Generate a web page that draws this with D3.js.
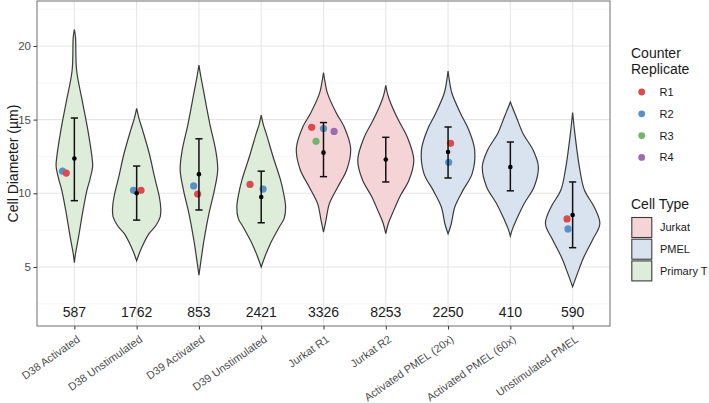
<!DOCTYPE html>
<head>
<meta charset="utf-8">
<title>Cell Diameter</title>
<script src="https://d3js.org/d3.v7.min.js"></script>
<style>
  body { margin: 0; background: #fff; }
  text { font-family: "Liberation Sans", Arial, sans-serif; }
</style>
</head>
<body>
<div id="violin"></div>
<script>

// ---- data ----
var categories = ["D38 Activated", "D38 Unstimulated", "D39 Activated", "D39 Unstimulated",
  "Jurkat R1", "Jurkat R2", "Activated PMEL (20x)", "Activated PMEL (60x)", "Unstimulated PMEL"];
var cellTypes = ["Primary T", "Primary T", "Primary T", "Primary T",
  "Jurkat", "Jurkat", "PMEL", "PMEL", "PMEL"];
var counts = [587, 1762, 853, 2421, 3326, 8253, 2250, 410, 590];
var means = [12.36, 10.0, 11.3, 9.75, 12.76, 12.29, 12.8, 11.79, 8.53];
var errLow = [9.5, 8.18, 8.87, 8.0, 11.13, 10.77, 11.04, 10.17, 6.31];
var errHigh = [15.11, 11.85, 13.7, 11.5, 14.8, 13.8, 14.5, 13.48, 10.77];

// density outline per group: [diameter, relative half width]
var violins = [
  [[5.3,0],[5.9,0.04],[7.05,0.15],[8.86,0.31],[10.22,0.45],[10.9,0.55],[11.8,0.65],[12.26,0.64],[14.3,0.48],[16.1,0.3],[18.35,0.08],[20.6,0.04],[21.1,0]],
  [[5.42,0],[5.9,0.09],[6.36,0.19],[7.26,0.44],[7.8,0.68],[8.4,0.84],[9.0,0.86],[9.75,0.81],[11.1,0.64],[12.7,0.45],[14.3,0.21],[15.1,0.08],[15.76,0]],
  [[4.45,0],[5.4,0.07],[6.8,0.18],[8.65,0.36],[10.2,0.55],[11.6,0.67],[12.9,0.6],[14.7,0.39],[17.0,0.16],[17.9,0.07],[18.7,0]],
  [[5.0,0],[5.7,0.13],[6.6,0.33],[7.7,0.64],[8.3,0.82],[9.07,0.87],[10.0,0.8],[10.9,0.69],[12.5,0.42],[14.05,0.18],[14.7,0.07],[15.3,0]],
  [[7.37,0],[8.2,0.09],[9.3,0.21],[10.4,0.5],[11.6,0.83],[13.03,0.97],[14.5,0.74],[15.4,0.47],[16.8,0.14],[17.5,0.06],[18.2,0]],
  [[7.26,0],[8.0,0.1],[8.64,0.24],[9.77,0.5],[10.9,0.83],[12.26,1.0],[13.8,0.77],[14.97,0.45],[16.1,0.18],[16.7,0.07],[17.33,0]],
  [[7.26,0],[7.9,0.11],[9.07,0.24],[10.2,0.53],[11.34,0.86],[12.94,0.95],[14.3,0.74],[15.4,0.45],[16.77,0.14],[17.5,0.06],[18.3,0]],
  [[7.1,0],[7.6,0.08],[8.18,0.21],[9.32,0.5],[10.45,0.85],[11.8,1.0],[12.94,0.81],[14.06,0.45],[15.2,0.21],[15.8,0.08],[16.2,0]],
  [[3.66,0],[4.55,0.17],[5.67,0.4],[6.8,0.7],[7.94,0.97],[9.07,0.77],[10.22,0.42],[11.8,0.24],[14.05,0.08],[15.48,0]]
];

// replicate means (jitter = horizontal offset in category widths)
var replicates = [
  {cat: "D38 Activated", rep: "R2", value: 11.5, jitter: -0.19},
  {cat: "D38 Activated", rep: "R1", value: 11.37, jitter: -0.13},
  {cat: "D38 Unstimulated", rep: "R2", value: 10.2, jitter: -0.05},
  {cat: "D38 Unstimulated", rep: "R1", value: 10.2, jitter: 0.07},
  {cat: "D39 Activated", rep: "R2", value: 10.5, jitter: -0.085},
  {cat: "D39 Activated", rep: "R1", value: 9.95, jitter: -0.02},
  {cat: "D39 Unstimulated", rep: "R1", value: 10.6, jitter: -0.18},
  {cat: "D39 Unstimulated", rep: "R2", value: 10.29, jitter: 0.03},
  {cat: "Jurkat R1", rep: "R1", value: 14.48, jitter: -0.19},
  {cat: "Jurkat R1", rep: "R2", value: 14.39, jitter: 0.0},
  {cat: "Jurkat R1", rep: "R4", value: 14.2, jitter: 0.17},
  {cat: "Jurkat R1", rep: "R3", value: 13.53, jitter: -0.12},
  {cat: "Activated PMEL (20x)", rep: "R1", value: 13.39, jitter: 0.04},
  {cat: "Activated PMEL (20x)", rep: "R2", value: 12.1, jitter: 0.01},
  {cat: "Unstimulated PMEL", rep: "R1", value: 8.26, jitter: -0.09},
  {cat: "Unstimulated PMEL", rep: "R2", value: 7.58, jitter: -0.075}
];

var repNames = ["R1", "R2", "R3", "R4"];
var repColors = ["#dc4a4e", "#5b90c6", "#70b46d", "#9e6bb2"];
var typeNames = ["Jurkat", "PMEL", "Primary T"];
var typeColors = ["#f5d4d8", "#d9e3ef", "#deecda"];
var yTicks = [5, 10, 15, 20];
var yMinor = [2.5, 7.5, 12.5, 17.5, 22.5];

// ---- layout ----
var W = 709, H = 403;
var panel = {left: 37, right: 610, top: 1, bottom: 326};

var svg = d3.select("#violin").append("svg")
  .attr("width", W).attr("height", H);

var x = d3.scalePoint().domain(categories)
  .range([panel.left, panel.right]).padding(0.6);
var y = d3.scaleLinear().domain([0.995, 23.05])
  .range([panel.bottom, panel.top]);
var repColor = d3.scaleOrdinal().domain(repNames).range(repColors);
var typeColor = d3.scaleOrdinal().domain(typeNames).range(typeColors);
var halfMax = x.step() * 0.45;

// grid
var grid = svg.append("g");
grid.selectAll(".minor").data(yMinor).enter().append("line")
  .attr("x1", panel.left).attr("x2", panel.right)
  .attr("y1", d => y(d)).attr("y2", d => y(d))
  .attr("stroke", "#f0f0f0").attr("stroke-width", 0.6);
grid.selectAll(".major").data(yTicks).enter().append("line")
  .attr("x1", panel.left).attr("x2", panel.right)
  .attr("y1", d => y(d)).attr("y2", d => y(d))
  .attr("stroke", "#e6e6e6").attr("stroke-width", 1.1);
grid.selectAll(".vmajor").data(categories).enter().append("line")
  .attr("x1", d => x(d)).attr("x2", d => x(d))
  .attr("y1", panel.top).attr("y2", panel.bottom)
  .attr("stroke", "#e6e6e6").attr("stroke-width", 1.1);

// violins
var area = d3.area()
  .curve(d3.curveCatmullRom)
  .y(d => y(d[0]));

categories.forEach(function(c, i) {
  var cx = x(c);
  area.x0(d => cx - d[1] * halfMax).x1(d => cx + d[1] * halfMax);
  svg.append("path")
    .datum(violins[i])
    .attr("d", area)
    .attr("fill", typeColor(cellTypes[i]))
    .attr("stroke", "#3a3a3a")
    .attr("stroke-width", 1.2);
});

// replicate points
svg.selectAll(".rep").data(replicates).enter().append("circle")
  .attr("cx", d => x(d.cat) + d.jitter * x.step())
  .attr("cy", d => y(d.value))
  .attr("r", 3.6)
  .attr("fill", d => repColor(d.rep));

// error bars + means
var eb = svg.append("g");
categories.forEach(function(c, i) {
  var cx = x(c);
  eb.append("line").attr("x1", cx).attr("x2", cx)
    .attr("y1", y(errLow[i])).attr("y2", y(errHigh[i]))
    .attr("stroke", "#111").attr("stroke-width", 1.5);
  [errLow[i], errHigh[i]].forEach(function(v) {
    eb.append("line").attr("x1", cx - 3.6).attr("x2", cx + 3.6)
      .attr("y1", y(v)).attr("y2", y(v))
      .attr("stroke", "#111").attr("stroke-width", 1.5);
  });
  eb.append("circle").attr("cx", cx).attr("cy", y(means[i]))
    .attr("r", 2.3).attr("fill", "#000");
});

// counts
svg.selectAll(".count").data(categories).enter().append("text")
  .attr("x", d => x(d))
  .attr("y", y(2))
  .attr("dy", "0.45em")
  .attr("text-anchor", "middle")
  .style("font-size", "14px")
  .attr("fill", "#1a1a1a")
  .text((d, i) => counts[i]);

// panel border
svg.append("rect")
  .attr("x", panel.left).attr("y", panel.top)
  .attr("width", panel.right - panel.left)
  .attr("height", panel.bottom - panel.top)
  .attr("fill", "none").attr("stroke", "#6e6e6e").attr("stroke-width", 1);

// axes
var yAxis = svg.append("g")
  .attr("transform", "translate(" + panel.left + ",0)")
  .call(d3.axisLeft(y).tickValues(yTicks).tickSize(3.5).tickPadding(2.5));
yAxis.select(".domain").remove();
yAxis.selectAll("line").attr("stroke", "#333");
yAxis.selectAll("text").attr("fill", "#4d4d4d").style("font-size", "11.5px");

var xAxis = svg.append("g")
  .attr("transform", "translate(0," + panel.bottom + ")")
  .call(d3.axisBottom(x).tickSize(3.5));
xAxis.select(".domain").remove();
xAxis.selectAll("line").attr("stroke", "#333");
xAxis.selectAll("text")
  .attr("fill", "#4d4d4d")
  .style("font-size", "11px")
  .attr("x", 0).attr("y", 0).attr("dy", 0)
  .attr("text-anchor", "end")
  .attr("transform", "translate(6,15) rotate(-35)");

svg.append("text")
  .attr("transform", "translate(18," + ((panel.top + panel.bottom) / 2) + ") rotate(-90)")
  .attr("text-anchor", "middle")
  .style("font-size", "14px")
  .attr("fill", "#1a1a1a")
  .text("Cell Diameter (\u00b5m)");

// legend: replicate
var lg1 = svg.append("g").attr("transform", "translate(631,0)");
lg1.append("text").attr("x", 0).attr("y", 58).style("font-size", "14px")
  .attr("fill", "#1a1a1a").text("Counter");
lg1.append("text").attr("x", 0).attr("y", 74).style("font-size", "14px")
  .attr("fill", "#1a1a1a").text("Replicate");
repNames.forEach(function(r, i) {
  var cy = 92 + i * 21.8;
  lg1.append("circle").attr("cx", 10.7).attr("cy", cy).attr("r", 3.4)
    .attr("fill", repColor(r));
  lg1.append("text").attr("x", 28.5).attr("y", cy).attr("dy", "0.36em")
    .style("font-size", "11px").attr("fill", "#1a1a1a").text(r);
});

// legend: cell type
var lg2 = svg.append("g").attr("transform", "translate(631,0)");
lg2.append("text").attr("x", 0).attr("y", 209).style("font-size", "14px")
  .attr("fill", "#1a1a1a").text("Cell Type");
typeNames.forEach(function(t, i) {
  var top = 217.5 + i * 21.7;
  lg2.append("rect").attr("x", 0.8).attr("y", top).attr("width", 20).attr("height", 20)
    .attr("fill", typeColor(t)).attr("stroke", "#3a3a3a").attr("stroke-width", 1.1);
  lg2.append("text").attr("x", 29).attr("y", top + 10).attr("dy", "0.36em")
    .style("font-size", "11px").attr("fill", "#1a1a1a").text(t);
});

</script>
</body>
